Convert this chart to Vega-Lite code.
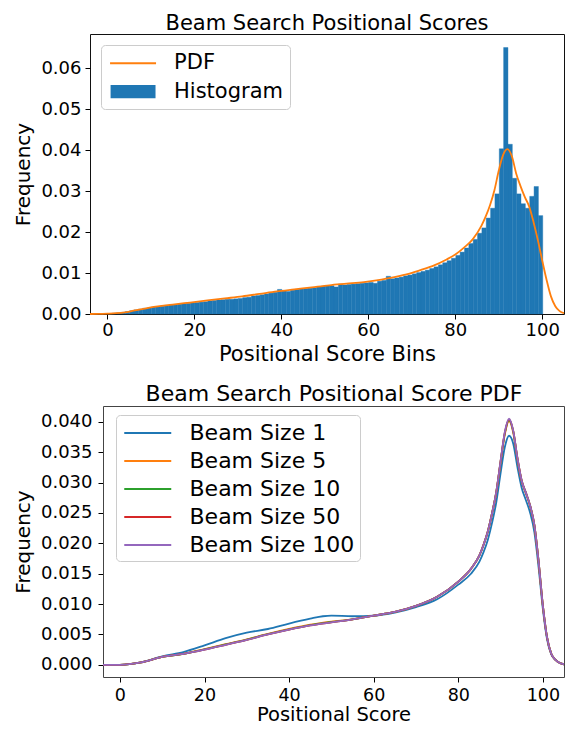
{
  "$schema": "https://vega.github.io/schema/vega-lite/v6.json",
  "padding": {"left": 12, "top": 12, "right": 0, "bottom": 0},
  "spacing": 18,
  "background": "white",
  "config": {
    "font": "DejaVu Sans",
    "axis": {"labelFont": "DejaVu Sans", "titleFont": "DejaVu Sans", "labelColor": "#000", "titleColor": "#000", "tickColor": "#000", "tickSize": 5, "tickWidth": 1, "grid": false, "domain": false, "labelFontSize": 18, "titleFontSize": 21, "titleFontWeight": "normal"},
    "title": {"font": "DejaVu Sans", "fontWeight": "normal", "color": "#000", "anchor": "middle"},
    "legend": {"labelFont": "DejaVu Sans", "labelColor": "#000"}
  },
  "datasets": {
    "hist": [
      {"bin_start": 0, "bin_end": 1, "freq": 0.0001},
      {"bin_start": 1, "bin_end": 2, "freq": 0.0002},
      {"bin_start": 2, "bin_end": 3, "freq": 0.0003},
      {"bin_start": 3, "bin_end": 4, "freq": 0.0004},
      {"bin_start": 4, "bin_end": 5, "freq": 0.0006},
      {"bin_start": 5, "bin_end": 6, "freq": 0.0008},
      {"bin_start": 6, "bin_end": 7, "freq": 0.0010},
      {"bin_start": 7, "bin_end": 8, "freq": 0.0012},
      {"bin_start": 8, "bin_end": 9, "freq": 0.0014},
      {"bin_start": 9, "bin_end": 10, "freq": 0.0015},
      {"bin_start": 10, "bin_end": 11, "freq": 0.0017},
      {"bin_start": 11, "bin_end": 12, "freq": 0.0018},
      {"bin_start": 12, "bin_end": 13, "freq": 0.0019},
      {"bin_start": 13, "bin_end": 14, "freq": 0.0021},
      {"bin_start": 14, "bin_end": 15, "freq": 0.0022},
      {"bin_start": 15, "bin_end": 16, "freq": 0.0023},
      {"bin_start": 16, "bin_end": 17, "freq": 0.0024},
      {"bin_start": 17, "bin_end": 18, "freq": 0.0025},
      {"bin_start": 18, "bin_end": 19, "freq": 0.0026},
      {"bin_start": 19, "bin_end": 20, "freq": 0.0027},
      {"bin_start": 20, "bin_end": 21, "freq": 0.0028},
      {"bin_start": 21, "bin_end": 22, "freq": 0.0029},
      {"bin_start": 22, "bin_end": 23, "freq": 0.0030},
      {"bin_start": 23, "bin_end": 24, "freq": 0.0032},
      {"bin_start": 24, "bin_end": 25, "freq": 0.0033},
      {"bin_start": 25, "bin_end": 26, "freq": 0.0034},
      {"bin_start": 26, "bin_end": 27, "freq": 0.0035},
      {"bin_start": 27, "bin_end": 28, "freq": 0.0036},
      {"bin_start": 28, "bin_end": 29, "freq": 0.0036},
      {"bin_start": 29, "bin_end": 30, "freq": 0.0037},
      {"bin_start": 30, "bin_end": 31, "freq": 0.0038},
      {"bin_start": 31, "bin_end": 32, "freq": 0.0040},
      {"bin_start": 32, "bin_end": 33, "freq": 0.0041},
      {"bin_start": 33, "bin_end": 34, "freq": 0.0044},
      {"bin_start": 34, "bin_end": 35, "freq": 0.0045},
      {"bin_start": 35, "bin_end": 36, "freq": 0.0047},
      {"bin_start": 36, "bin_end": 37, "freq": 0.0049},
      {"bin_start": 37, "bin_end": 38, "freq": 0.0051},
      {"bin_start": 38, "bin_end": 39, "freq": 0.0053},
      {"bin_start": 39, "bin_end": 40, "freq": 0.0060},
      {"bin_start": 40, "bin_end": 41, "freq": 0.0057},
      {"bin_start": 41, "bin_end": 42, "freq": 0.0055},
      {"bin_start": 42, "bin_end": 43, "freq": 0.0058},
      {"bin_start": 43, "bin_end": 44, "freq": 0.0060},
      {"bin_start": 44, "bin_end": 45, "freq": 0.0062},
      {"bin_start": 45, "bin_end": 46, "freq": 0.0062},
      {"bin_start": 46, "bin_end": 47, "freq": 0.0063},
      {"bin_start": 47, "bin_end": 48, "freq": 0.0064},
      {"bin_start": 48, "bin_end": 49, "freq": 0.0066},
      {"bin_start": 49, "bin_end": 50, "freq": 0.0068},
      {"bin_start": 50, "bin_end": 51, "freq": 0.0069},
      {"bin_start": 51, "bin_end": 52, "freq": 0.0069},
      {"bin_start": 52, "bin_end": 53, "freq": 0.0066},
      {"bin_start": 53, "bin_end": 54, "freq": 0.0073},
      {"bin_start": 54, "bin_end": 55, "freq": 0.0071},
      {"bin_start": 55, "bin_end": 56, "freq": 0.0072},
      {"bin_start": 56, "bin_end": 57, "freq": 0.0073},
      {"bin_start": 57, "bin_end": 58, "freq": 0.0074},
      {"bin_start": 58, "bin_end": 59, "freq": 0.0075},
      {"bin_start": 59, "bin_end": 60, "freq": 0.0076},
      {"bin_start": 60, "bin_end": 61, "freq": 0.0077},
      {"bin_start": 61, "bin_end": 62, "freq": 0.0075},
      {"bin_start": 62, "bin_end": 63, "freq": 0.0080},
      {"bin_start": 63, "bin_end": 64, "freq": 0.0082},
      {"bin_start": 64, "bin_end": 65, "freq": 0.0092},
      {"bin_start": 65, "bin_end": 66, "freq": 0.0086},
      {"bin_start": 66, "bin_end": 67, "freq": 0.0088},
      {"bin_start": 67, "bin_end": 68, "freq": 0.0090},
      {"bin_start": 68, "bin_end": 69, "freq": 0.0093},
      {"bin_start": 69, "bin_end": 70, "freq": 0.0095},
      {"bin_start": 70, "bin_end": 71, "freq": 0.0098},
      {"bin_start": 71, "bin_end": 72, "freq": 0.0101},
      {"bin_start": 72, "bin_end": 73, "freq": 0.0104},
      {"bin_start": 73, "bin_end": 74, "freq": 0.0107},
      {"bin_start": 74, "bin_end": 75, "freq": 0.0111},
      {"bin_start": 75, "bin_end": 76, "freq": 0.0115},
      {"bin_start": 76, "bin_end": 77, "freq": 0.0120},
      {"bin_start": 77, "bin_end": 78, "freq": 0.0125},
      {"bin_start": 78, "bin_end": 79, "freq": 0.0130},
      {"bin_start": 79, "bin_end": 80, "freq": 0.0136},
      {"bin_start": 80, "bin_end": 81, "freq": 0.0143},
      {"bin_start": 81, "bin_end": 82, "freq": 0.0151},
      {"bin_start": 82, "bin_end": 83, "freq": 0.0161},
      {"bin_start": 83, "bin_end": 84, "freq": 0.0172},
      {"bin_start": 84, "bin_end": 85, "freq": 0.0182},
      {"bin_start": 85, "bin_end": 86, "freq": 0.0197},
      {"bin_start": 86, "bin_end": 87, "freq": 0.0210},
      {"bin_start": 87, "bin_end": 88, "freq": 0.0234},
      {"bin_start": 88, "bin_end": 89, "freq": 0.0258},
      {"bin_start": 89, "bin_end": 90, "freq": 0.0293},
      {"bin_start": 90, "bin_end": 91, "freq": 0.0403},
      {"bin_start": 91, "bin_end": 92, "freq": 0.0650},
      {"bin_start": 92, "bin_end": 93, "freq": 0.0414},
      {"bin_start": 93, "bin_end": 94, "freq": 0.0331},
      {"bin_start": 94, "bin_end": 95, "freq": 0.0293},
      {"bin_start": 95, "bin_end": 96, "freq": 0.0269},
      {"bin_start": 96, "bin_end": 97, "freq": 0.0258},
      {"bin_start": 97, "bin_end": 98, "freq": 0.0287},
      {"bin_start": 98, "bin_end": 99, "freq": 0.0311},
      {"bin_start": 99, "bin_end": 100, "freq": 0.0240}
    ],
    "pdf": [
      {"score": -4, "freq": 0.0},
      {"score": -2, "freq": 0.00003},
      {"score": 0, "freq": 0.0001},
      {"score": 2, "freq": 0.0002},
      {"score": 4, "freq": 0.0004},
      {"score": 6, "freq": 0.0008},
      {"score": 8, "freq": 0.0012},
      {"score": 10, "freq": 0.0016},
      {"score": 12, "freq": 0.0019},
      {"score": 15, "freq": 0.0023},
      {"score": 19, "freq": 0.0028},
      {"score": 23, "freq": 0.0033},
      {"score": 27, "freq": 0.0038},
      {"score": 31, "freq": 0.0043},
      {"score": 35, "freq": 0.0049},
      {"score": 39, "freq": 0.0055},
      {"score": 43, "freq": 0.0060},
      {"score": 47, "freq": 0.0065},
      {"score": 51, "freq": 0.0070},
      {"score": 55, "freq": 0.0074},
      {"score": 59, "freq": 0.0078},
      {"score": 63, "freq": 0.0084},
      {"score": 66, "freq": 0.0090},
      {"score": 69, "freq": 0.0097},
      {"score": 72, "freq": 0.0107},
      {"score": 75, "freq": 0.0118},
      {"score": 78, "freq": 0.0133},
      {"score": 80, "freq": 0.0145},
      {"score": 82, "freq": 0.0162},
      {"score": 84, "freq": 0.0182},
      {"score": 86, "freq": 0.0215},
      {"score": 87, "freq": 0.0238},
      {"score": 88, "freq": 0.0266},
      {"score": 89, "freq": 0.0302},
      {"score": 90, "freq": 0.0350},
      {"score": 91, "freq": 0.0388},
      {"score": 92, "freq": 0.0402},
      {"score": 93, "freq": 0.0385},
      {"score": 94, "freq": 0.0343},
      {"score": 95, "freq": 0.0312},
      {"score": 96, "freq": 0.0285},
      {"score": 97, "freq": 0.0262},
      {"score": 98, "freq": 0.0224},
      {"score": 99, "freq": 0.0180},
      {"score": 100, "freq": 0.0130},
      {"score": 101, "freq": 0.0083},
      {"score": 102, "freq": 0.0043},
      {"score": 103, "freq": 0.0019},
      {"score": 104, "freq": 0.0007},
      {"score": 105, "freq": 0.0002}
    ],
    "legendkeys": [
      {"series": "PDF"},
      {"series": "Histogram"}
    ],
    "beams": [
      {"beam": "Beam Size 1", "score": -4, "freq": 0.0},
      {"beam": "Beam Size 1", "score": 0, "freq": 0.0},
      {"beam": "Beam Size 1", "score": 5, "freq": 0.0004},
      {"beam": "Beam Size 1", "score": 10, "freq": 0.0014},
      {"beam": "Beam Size 1", "score": 15, "freq": 0.0021},
      {"beam": "Beam Size 1", "score": 20, "freq": 0.0032},
      {"beam": "Beam Size 1", "score": 25, "freq": 0.0044},
      {"beam": "Beam Size 1", "score": 30, "freq": 0.0053},
      {"beam": "Beam Size 1", "score": 35, "freq": 0.0059},
      {"beam": "Beam Size 1", "score": 40, "freq": 0.0068},
      {"beam": "Beam Size 1", "score": 45, "freq": 0.0076},
      {"beam": "Beam Size 1", "score": 48, "freq": 0.0080},
      {"beam": "Beam Size 1", "score": 50, "freq": 0.0081},
      {"beam": "Beam Size 1", "score": 55, "freq": 0.0080},
      {"beam": "Beam Size 1", "score": 60, "freq": 0.0081},
      {"beam": "Beam Size 1", "score": 65, "freq": 0.0086},
      {"beam": "Beam Size 1", "score": 70, "freq": 0.0095},
      {"beam": "Beam Size 1", "score": 75, "freq": 0.0108},
      {"beam": "Beam Size 1", "score": 80, "freq": 0.0132},
      {"beam": "Beam Size 1", "score": 83, "freq": 0.0150},
      {"beam": "Beam Size 1", "score": 85, "freq": 0.0170},
      {"beam": "Beam Size 1", "score": 86, "freq": 0.0186},
      {"beam": "Beam Size 1", "score": 87, "freq": 0.0206},
      {"beam": "Beam Size 1", "score": 88, "freq": 0.0234},
      {"beam": "Beam Size 1", "score": 89, "freq": 0.0268},
      {"beam": "Beam Size 1", "score": 90, "freq": 0.0315},
      {"beam": "Beam Size 1", "score": 91, "freq": 0.0358},
      {"beam": "Beam Size 1", "score": 92, "freq": 0.0377},
      {"beam": "Beam Size 1", "score": 93, "freq": 0.0364},
      {"beam": "Beam Size 1", "score": 94, "freq": 0.0325},
      {"beam": "Beam Size 1", "score": 95, "freq": 0.0291},
      {"beam": "Beam Size 1", "score": 96, "freq": 0.0271},
      {"beam": "Beam Size 1", "score": 97, "freq": 0.0250},
      {"beam": "Beam Size 1", "score": 98, "freq": 0.0218},
      {"beam": "Beam Size 1", "score": 99, "freq": 0.0160},
      {"beam": "Beam Size 1", "score": 100, "freq": 0.0092},
      {"beam": "Beam Size 1", "score": 101, "freq": 0.0042},
      {"beam": "Beam Size 1", "score": 102, "freq": 0.0017},
      {"beam": "Beam Size 1", "score": 103, "freq": 0.0008},
      {"beam": "Beam Size 1", "score": 104, "freq": 0.0003},
      {"beam": "Beam Size 1", "score": 105, "freq": 0.0001},

      {"beam": "Beam Size 5", "score": -4, "freq": 0.0},
      {"beam": "Beam Size 5", "score": 0, "freq": 0.0},
      {"beam": "Beam Size 5", "score": 5, "freq": 0.0004},
      {"beam": "Beam Size 5", "score": 10, "freq": 0.0013},
      {"beam": "Beam Size 5", "score": 15, "freq": 0.0018},
      {"beam": "Beam Size 5", "score": 20, "freq": 0.0026},
      {"beam": "Beam Size 5", "score": 25, "freq": 0.0034},
      {"beam": "Beam Size 5", "score": 30, "freq": 0.0042},
      {"beam": "Beam Size 5", "score": 35, "freq": 0.0051},
      {"beam": "Beam Size 5", "score": 40, "freq": 0.0059},
      {"beam": "Beam Size 5", "score": 45, "freq": 0.0066},
      {"beam": "Beam Size 5", "score": 50, "freq": 0.0071},
      {"beam": "Beam Size 5", "score": 55, "freq": 0.0075},
      {"beam": "Beam Size 5", "score": 60, "freq": 0.0081},
      {"beam": "Beam Size 5", "score": 65, "freq": 0.0087},
      {"beam": "Beam Size 5", "score": 70, "freq": 0.0097},
      {"beam": "Beam Size 5", "score": 75, "freq": 0.0112},
      {"beam": "Beam Size 5", "score": 80, "freq": 0.0137},
      {"beam": "Beam Size 5", "score": 83, "freq": 0.0158},
      {"beam": "Beam Size 5", "score": 85, "freq": 0.0180},
      {"beam": "Beam Size 5", "score": 86, "freq": 0.0198},
      {"beam": "Beam Size 5", "score": 87, "freq": 0.0220},
      {"beam": "Beam Size 5", "score": 88, "freq": 0.0250},
      {"beam": "Beam Size 5", "score": 89, "freq": 0.0284},
      {"beam": "Beam Size 5", "score": 90, "freq": 0.0333},
      {"beam": "Beam Size 5", "score": 91, "freq": 0.0379},
      {"beam": "Beam Size 5", "score": 92, "freq": 0.0401},
      {"beam": "Beam Size 5", "score": 93, "freq": 0.0382},
      {"beam": "Beam Size 5", "score": 94, "freq": 0.0338},
      {"beam": "Beam Size 5", "score": 95, "freq": 0.0302},
      {"beam": "Beam Size 5", "score": 96, "freq": 0.0282},
      {"beam": "Beam Size 5", "score": 97, "freq": 0.0261},
      {"beam": "Beam Size 5", "score": 98, "freq": 0.0229},
      {"beam": "Beam Size 5", "score": 99, "freq": 0.0169},
      {"beam": "Beam Size 5", "score": 100, "freq": 0.0097},
      {"beam": "Beam Size 5", "score": 101, "freq": 0.0045},
      {"beam": "Beam Size 5", "score": 102, "freq": 0.0018},
      {"beam": "Beam Size 5", "score": 103, "freq": 0.0008},
      {"beam": "Beam Size 5", "score": 104, "freq": 0.0003},
      {"beam": "Beam Size 5", "score": 105, "freq": 0.0001},

      {"beam": "Beam Size 10", "score": -4, "freq": 0.0},
      {"beam": "Beam Size 10", "score": 0, "freq": 0.0},
      {"beam": "Beam Size 10", "score": 5, "freq": 0.0004},
      {"beam": "Beam Size 10", "score": 10, "freq": 0.0013},
      {"beam": "Beam Size 10", "score": 15, "freq": 0.0018},
      {"beam": "Beam Size 10", "score": 20, "freq": 0.00255},
      {"beam": "Beam Size 10", "score": 25, "freq": 0.00335},
      {"beam": "Beam Size 10", "score": 30, "freq": 0.00415},
      {"beam": "Beam Size 10", "score": 35, "freq": 0.00505},
      {"beam": "Beam Size 10", "score": 40, "freq": 0.00585},
      {"beam": "Beam Size 10", "score": 45, "freq": 0.00655},
      {"beam": "Beam Size 10", "score": 50, "freq": 0.00705},
      {"beam": "Beam Size 10", "score": 55, "freq": 0.0075},
      {"beam": "Beam Size 10", "score": 60, "freq": 0.0081},
      {"beam": "Beam Size 10", "score": 65, "freq": 0.0087},
      {"beam": "Beam Size 10", "score": 70, "freq": 0.0097},
      {"beam": "Beam Size 10", "score": 75, "freq": 0.0112},
      {"beam": "Beam Size 10", "score": 80, "freq": 0.0137},
      {"beam": "Beam Size 10", "score": 83, "freq": 0.0158},
      {"beam": "Beam Size 10", "score": 85, "freq": 0.0180},
      {"beam": "Beam Size 10", "score": 86, "freq": 0.0198},
      {"beam": "Beam Size 10", "score": 87, "freq": 0.0220},
      {"beam": "Beam Size 10", "score": 88, "freq": 0.0250},
      {"beam": "Beam Size 10", "score": 89, "freq": 0.0285},
      {"beam": "Beam Size 10", "score": 90, "freq": 0.0334},
      {"beam": "Beam Size 10", "score": 91, "freq": 0.0381},
      {"beam": "Beam Size 10", "score": 92, "freq": 0.0403},
      {"beam": "Beam Size 10", "score": 93, "freq": 0.0384},
      {"beam": "Beam Size 10", "score": 94, "freq": 0.0339},
      {"beam": "Beam Size 10", "score": 95, "freq": 0.0303},
      {"beam": "Beam Size 10", "score": 96, "freq": 0.0283},
      {"beam": "Beam Size 10", "score": 97, "freq": 0.0262},
      {"beam": "Beam Size 10", "score": 98, "freq": 0.0230},
      {"beam": "Beam Size 10", "score": 99, "freq": 0.0170},
      {"beam": "Beam Size 10", "score": 100, "freq": 0.0098},
      {"beam": "Beam Size 10", "score": 101, "freq": 0.0045},
      {"beam": "Beam Size 10", "score": 102, "freq": 0.0018},
      {"beam": "Beam Size 10", "score": 103, "freq": 0.0008},
      {"beam": "Beam Size 10", "score": 104, "freq": 0.0003},
      {"beam": "Beam Size 10", "score": 105, "freq": 0.0001},

      {"beam": "Beam Size 50", "score": -4, "freq": 0.0},
      {"beam": "Beam Size 50", "score": 0, "freq": 0.0},
      {"beam": "Beam Size 50", "score": 5, "freq": 0.0004},
      {"beam": "Beam Size 50", "score": 10, "freq": 0.0013},
      {"beam": "Beam Size 50", "score": 15, "freq": 0.0018},
      {"beam": "Beam Size 50", "score": 20, "freq": 0.0025},
      {"beam": "Beam Size 50", "score": 25, "freq": 0.0033},
      {"beam": "Beam Size 50", "score": 30, "freq": 0.0041},
      {"beam": "Beam Size 50", "score": 35, "freq": 0.0050},
      {"beam": "Beam Size 50", "score": 40, "freq": 0.0058},
      {"beam": "Beam Size 50", "score": 45, "freq": 0.0065},
      {"beam": "Beam Size 50", "score": 50, "freq": 0.0070},
      {"beam": "Beam Size 50", "score": 55, "freq": 0.0075},
      {"beam": "Beam Size 50", "score": 60, "freq": 0.0081},
      {"beam": "Beam Size 50", "score": 65, "freq": 0.0087},
      {"beam": "Beam Size 50", "score": 70, "freq": 0.0097},
      {"beam": "Beam Size 50", "score": 75, "freq": 0.0112},
      {"beam": "Beam Size 50", "score": 80, "freq": 0.0137},
      {"beam": "Beam Size 50", "score": 83, "freq": 0.0158},
      {"beam": "Beam Size 50", "score": 85, "freq": 0.0180},
      {"beam": "Beam Size 50", "score": 86, "freq": 0.0198},
      {"beam": "Beam Size 50", "score": 87, "freq": 0.0220},
      {"beam": "Beam Size 50", "score": 88, "freq": 0.0250},
      {"beam": "Beam Size 50", "score": 89, "freq": 0.0285},
      {"beam": "Beam Size 50", "score": 90, "freq": 0.0335},
      {"beam": "Beam Size 50", "score": 91, "freq": 0.0382},
      {"beam": "Beam Size 50", "score": 92, "freq": 0.0404},
      {"beam": "Beam Size 50", "score": 93, "freq": 0.0385},
      {"beam": "Beam Size 50", "score": 94, "freq": 0.0340},
      {"beam": "Beam Size 50", "score": 95, "freq": 0.0303},
      {"beam": "Beam Size 50", "score": 96, "freq": 0.0283},
      {"beam": "Beam Size 50", "score": 97, "freq": 0.0262},
      {"beam": "Beam Size 50", "score": 98, "freq": 0.0230},
      {"beam": "Beam Size 50", "score": 99, "freq": 0.0170},
      {"beam": "Beam Size 50", "score": 100, "freq": 0.0098},
      {"beam": "Beam Size 50", "score": 101, "freq": 0.0045},
      {"beam": "Beam Size 50", "score": 102, "freq": 0.0018},
      {"beam": "Beam Size 50", "score": 103, "freq": 0.0008},
      {"beam": "Beam Size 50", "score": 104, "freq": 0.0003},
      {"beam": "Beam Size 50", "score": 105, "freq": 0.0001},

      {"beam": "Beam Size 100", "score": -4, "freq": 0.0},
      {"beam": "Beam Size 100", "score": 0, "freq": 0.0},
      {"beam": "Beam Size 100", "score": 5, "freq": 0.0004},
      {"beam": "Beam Size 100", "score": 10, "freq": 0.0013},
      {"beam": "Beam Size 100", "score": 15, "freq": 0.0018},
      {"beam": "Beam Size 100", "score": 20, "freq": 0.0025},
      {"beam": "Beam Size 100", "score": 25, "freq": 0.0033},
      {"beam": "Beam Size 100", "score": 30, "freq": 0.0041},
      {"beam": "Beam Size 100", "score": 35, "freq": 0.0050},
      {"beam": "Beam Size 100", "score": 40, "freq": 0.0058},
      {"beam": "Beam Size 100", "score": 45, "freq": 0.0065},
      {"beam": "Beam Size 100", "score": 50, "freq": 0.0070},
      {"beam": "Beam Size 100", "score": 55, "freq": 0.0075},
      {"beam": "Beam Size 100", "score": 60, "freq": 0.0081},
      {"beam": "Beam Size 100", "score": 65, "freq": 0.0087},
      {"beam": "Beam Size 100", "score": 70, "freq": 0.0097},
      {"beam": "Beam Size 100", "score": 75, "freq": 0.0112},
      {"beam": "Beam Size 100", "score": 80, "freq": 0.0137},
      {"beam": "Beam Size 100", "score": 83, "freq": 0.0158},
      {"beam": "Beam Size 100", "score": 85, "freq": 0.0180},
      {"beam": "Beam Size 100", "score": 86, "freq": 0.0198},
      {"beam": "Beam Size 100", "score": 87, "freq": 0.0220},
      {"beam": "Beam Size 100", "score": 88, "freq": 0.0250},
      {"beam": "Beam Size 100", "score": 89, "freq": 0.0285},
      {"beam": "Beam Size 100", "score": 90, "freq": 0.0335},
      {"beam": "Beam Size 100", "score": 91, "freq": 0.0383},
      {"beam": "Beam Size 100", "score": 92, "freq": 0.0405},
      {"beam": "Beam Size 100", "score": 93, "freq": 0.0385},
      {"beam": "Beam Size 100", "score": 94, "freq": 0.0340},
      {"beam": "Beam Size 100", "score": 95, "freq": 0.0303},
      {"beam": "Beam Size 100", "score": 96, "freq": 0.0283},
      {"beam": "Beam Size 100", "score": 97, "freq": 0.0262},
      {"beam": "Beam Size 100", "score": 98, "freq": 0.0230},
      {"beam": "Beam Size 100", "score": 99, "freq": 0.0170},
      {"beam": "Beam Size 100", "score": 100, "freq": 0.0098},
      {"beam": "Beam Size 100", "score": 101, "freq": 0.0045},
      {"beam": "Beam Size 100", "score": 102, "freq": 0.0018},
      {"beam": "Beam Size 100", "score": 103, "freq": 0.0008},
      {"beam": "Beam Size 100", "score": 104, "freq": 0.0003},
      {"beam": "Beam Size 100", "score": 105, "freq": 0.0001}
    ]
  },
  "vconcat": [
    {
      "width": 474,
      "height": 280,
      "view": {"stroke": "#111", "strokeWidth": 1},
      "title": {"text": "Beam Search Positional Scores", "fontSize": 21, "offset": 0},
      "layer": [
        {
          "data": {"name": "hist"},
          "mark": {"type": "bar", "color": "#1f77b4", "binSpacing": 0, "stroke": "#1f77b4", "strokeWidth": 0.4},
          "encoding": {
            "x": {"field": "bin_start", "type": "quantitative", "bin": {"binned": true, "step": 1}, "scale": {"domain": [-4, 105], "nice": false, "zero": false},
              "axis": {"values": [0, 20, 40, 60, 80, 100], "format": "d", "labelPadding": 2.5, "titlePadding": 4, "title": "Positional Score Bins"}},
            "x2": {"field": "bin_end"},
            "y": {"field": "freq", "type": "quantitative", "scale": {"domain": [0, 0.0683], "nice": false},
              "axis": {"values": [0, 0.01, 0.02, 0.03, 0.04, 0.05, 0.06], "format": ".2f", "labelPadding": 4, "minExtent": 49, "maxExtent": 49, "titlePadding": 7.6, "title": "Frequency", "titleFontSize": 20}}
          }
        },
        {
          "data": {"name": "pdf"},
          "mark": {"type": "line", "color": "#ff7f0e", "strokeWidth": 1.8, "interpolate": "monotone"},
          "encoding": {
            "x": {"field": "score", "type": "quantitative"},
            "y": {"field": "freq", "type": "quantitative"}
          }
        },
        {
          "data": {"name": "legendkeys"},
          "mark": {"type": "point", "filled": false, "opacity": 0},
          "encoding": {
            "x": {"datum": 50, "type": "quantitative"},
            "y": {"datum": 0.01, "type": "quantitative"},
            "stroke": {"field": "series", "type": "nominal",
              "scale": {"domain": ["PDF", "Histogram"], "range": ["#ff7f0e", "#1f77b4"]},
              "legend": {"title": null, "orient": "top-left", "offset": 11, "labelFontSize": 21, "symbolSize": 437, "symbolStrokeWidth": 2, "symbolOpacity": 1, "symbolFillColor": "transparent", "symbolOffset": 13.85, "labelOffset": 29.5, "rowPadding": 6.5, "padding": 6.7, "strokeColor": "#cccccc", "fillColor": "rgba(255,255,255,0.8)", "cornerRadius": 4}},
            "shape": {"field": "series", "type": "nominal",
              "scale": {"domain": ["PDF", "Histogram"], "range": ["M-2.2,0H2.2", "M-2.15,-0.54H2.15M-2.15,-0.36H2.15M-2.15,-0.18H2.15M-2.15,0H2.15M-2.15,0.18H2.15M-2.15,0.36H2.15M-2.15,0.54H2.15"]},
              "legend": {"title": null, "orient": "top-left", "offset": 11, "labelFontSize": 21, "symbolSize": 437, "symbolStrokeWidth": 2, "symbolOpacity": 1, "symbolFillColor": "transparent", "symbolOffset": 13.85, "labelOffset": 29.5, "rowPadding": 6.5, "padding": 6.7, "strokeColor": "#cccccc", "fillColor": "rgba(255,255,255,0.8)", "cornerRadius": 4}}
          }
        }
      ]
    },
    {
      "width": 474,
      "height": 271,
      "view": {"stroke": null},
      "title": {"text": "Beam Search Positional Score PDF", "fontSize": 22, "offset": 0, "dx": 7},
      "data": {"name": "beams"},
      "layer": [
        {
          "mark": {"type": "line", "strokeWidth": 1.8, "interpolate": "monotone"},
          "encoding": {
            "x": {"field": "score", "type": "quantitative", "scale": {"domain": [-4, 105], "range": [13, 474], "nice": false, "zero": false},
              "axis": {"values": [0, 20, 40, 60, 80, 100], "labelFontSize": 17.5, "labelPadding": 4, "titlePadding": 2, "title": "Positional Score", "titleFontSize": 19.5, "domain": true, "domainColor": "#444", "domainWidth": 1}},
            "y": {"field": "freq", "type": "quantitative", "scale": {"domain": [-0.002, 0.0426], "nice": false, "zero": false},
              "axis": {"values": [0, 0.005, 0.01, 0.015, 0.02, 0.025, 0.03, 0.035, 0.04], "format": ".3f", "offset": -13, "labelPadding": 6, "minExtent": 62, "maxExtent": 62, "titlePadding": 7.6, "title": "Frequency", "titleFontSize": 20, "domain": true, "domainColor": "#444", "domainWidth": 1}},
            "color": {"field": "beam", "type": "nominal",
              "scale": {"domain": ["Beam Size 1", "Beam Size 5", "Beam Size 10", "Beam Size 50", "Beam Size 100"], "range": ["#1f77b4", "#ff7f0e", "#2ca02c", "#d62728", "#9467bd"]},
              "legend": {
                "title": null, "orient": "none", "legendX": 26, "legendY": 9,
                "labelFontSize": 22, "labelLimit": 400, "symbolType": "M-2,0H2", "symbolSize": 552, "symbolStrokeWidth": 2, "symbolOffset": 13.75, "labelOffset": 28.75, "rowPadding": 4, "padding": 5,
                "strokeColor": "#cccccc", "fillColor": "rgba(255,255,255,0.8)", "cornerRadius": 4
              }}
          }
        },
        {
          "mark": {"type": "line", "opacity": 0},
          "encoding": {
            "x": {"field": "score", "type": "quantitative", "axis": {"orient": "top", "ticks": false, "labels": false, "domain": true, "domainColor": "#444", "domainWidth": 1, "title": null}},
            "y": {"field": "freq", "type": "quantitative", "axis": {"orient": "right", "ticks": false, "labels": false, "domain": true, "domainColor": "#444", "domainWidth": 1, "title": null}}
          }
        }
      ],
      "resolve": {"axis": {"x": "independent", "y": "independent"}}
    }
  ],
  "resolve": {
    "scale": {"color": "independent", "stroke": "independent", "shape": "independent"},
    "legend": {"color": "independent", "stroke": "independent", "shape": "independent"}
  }
}
